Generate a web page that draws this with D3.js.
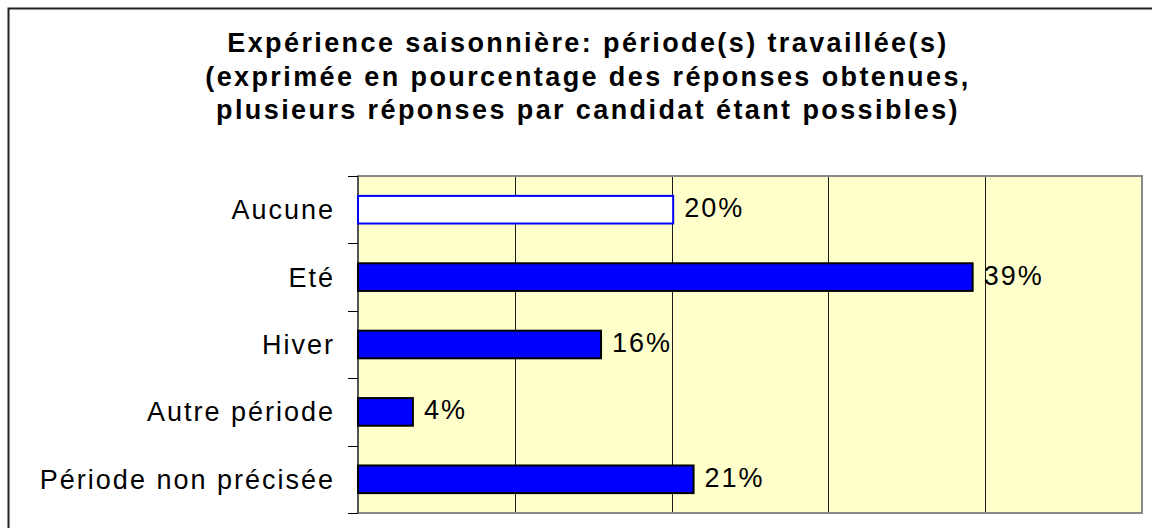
<!DOCTYPE html>
<html>
<head>
<meta charset="utf-8">
<script src="https://cdn.jsdelivr.net/npm/d3@7"></script>
<style>
  html, body { margin: 0; padding: 0; background: #ffffff; }
  svg { display: block; }
</style>
</head>
<body>
<svg id="chart" width="1152" height="528"></svg>
<script>
// ---- data ----
const titleLines = [
  "Expérience saisonnière: période(s) travaillée(s)",
  "(exprimée en pourcentage des réponses obtenues,",
  "plusieurs réponses par candidat étant possibles)"
];
const categories = ["Aucune", "Eté", "Hiver", "Autre période", "Période non précisée"];
const values = [20.1, 39.2, 15.5, 3.5, 21.4];
const gridTicks = [10, 20, 30, 40];
const xMax = 50;

// ---- layout ----
const svg = d3.select("#chart");
const plot = { left: 358, right: 1142, top: 176, bottom: 513 };
const labelFont = "'Liberation Sans', Arial, sans-serif";

// outer frame (extends past the right/bottom edges as in the reference)
svg.append("rect")
  .attr("x", 8.5).attr("y", 8.5)
  .attr("width", 1200).attr("height", 600)
  .attr("fill", "#ffffff")
  .attr("stroke", "#222222").attr("stroke-width", 2);

// title
const title = svg.append("text")
  .attr("text-anchor", "middle")
  .attr("font-family", labelFont)
  .attr("font-weight", "bold")
  .attr("font-size", 27)
  .attr("letter-spacing", "2.4px")
  .attr("fill", "#000");
title.selectAll("tspan").data(titleLines).join("tspan")
  .attr("x", 588)
  .attr("y", (d, i) => 52 + i * 33.5)
  .text(d => d);

// scales
const x = d3.scaleLinear().domain([0, xMax]).range([plot.left, plot.right]);
const y = d3.scaleBand().domain(categories)
  .range([plot.top, plot.bottom])
  .paddingInner(0.59).paddingOuter(0.295);

// plot background
svg.append("rect")
  .attr("x", plot.left).attr("y", plot.top)
  .attr("width", plot.right - plot.left).attr("height", plot.bottom - plot.top)
  .attr("fill", "#FFFFCC");

// gridlines
svg.append("g").selectAll("line").data(gridTicks).join("line")
  .attr("x1", d => Math.round(x(d)) + 0.5).attr("x2", d => Math.round(x(d)) + 0.5)
  .attr("y1", plot.top).attr("y2", plot.bottom)
  .attr("stroke", "#1a1a1a").attr("stroke-width", 1);

// plot border (gray)
svg.append("rect")
  .attr("x", plot.left).attr("y", plot.top)
  .attr("width", plot.right - plot.left).attr("height", plot.bottom - plot.top)
  .attr("fill", "none")
  .attr("stroke", "#888888").attr("stroke-width", 2);

// category axis line and ticks at band boundaries
const step = y.step();
const gap = step - y.bandwidth();
const boundaries = categories.map(c => y(c) - gap / 2).concat([y(categories[categories.length - 1]) + y.bandwidth() + gap / 2]);
svg.append("line")
  .attr("x1", plot.left).attr("x2", plot.left)
  .attr("y1", plot.top).attr("y2", plot.bottom)
  .attr("stroke", "#555555").attr("stroke-width", 2);
svg.append("g").selectAll("line").data(boundaries).join("line")
  .attr("x1", plot.left - 10).attr("x2", plot.left)
  .attr("y1", d => Math.round(d) + 0.5).attr("y2", d => Math.round(d) + 0.5)
  .attr("stroke", "#000").attr("stroke-width", 1);

// bars
svg.append("g").selectAll("rect").data(categories).join("rect")
  .attr("x", plot.left)
  .attr("y", d => y(d))
  .attr("width", (d, i) => x(values[i]) - x(0))
  .attr("height", y.bandwidth())
  .attr("fill", (d, i) => i === 0 ? "#ffffff" : "#0000FF")
  .attr("stroke", (d, i) => i === 0 ? "#0000FF" : "#000000")
  .attr("stroke-width", 2);

// category labels
svg.append("g").selectAll("text").data(categories).join("text")
  .attr("x", 335)
  .attr("y", d => y(d) + y.bandwidth() / 2 + 9.5)
  .attr("text-anchor", "end")
  .attr("font-family", labelFont)
  .attr("font-size", 27)
  .attr("letter-spacing", "2px")
  .attr("fill", "#000")
  .text(d => d);

// value labels
svg.append("g").selectAll("text").data(categories).join("text")
  .attr("x", (d, i) => x(values[i]) + 11)
  .attr("y", d => y(d) + y.bandwidth() / 2 + 7.5)
  .attr("font-family", labelFont)
  .attr("font-size", 27)
  .attr("letter-spacing", "2px")
  .attr("fill", "#000")
  .text((d, i) => Math.round(values[i]) + "%");
</script>
</body>
</html>
